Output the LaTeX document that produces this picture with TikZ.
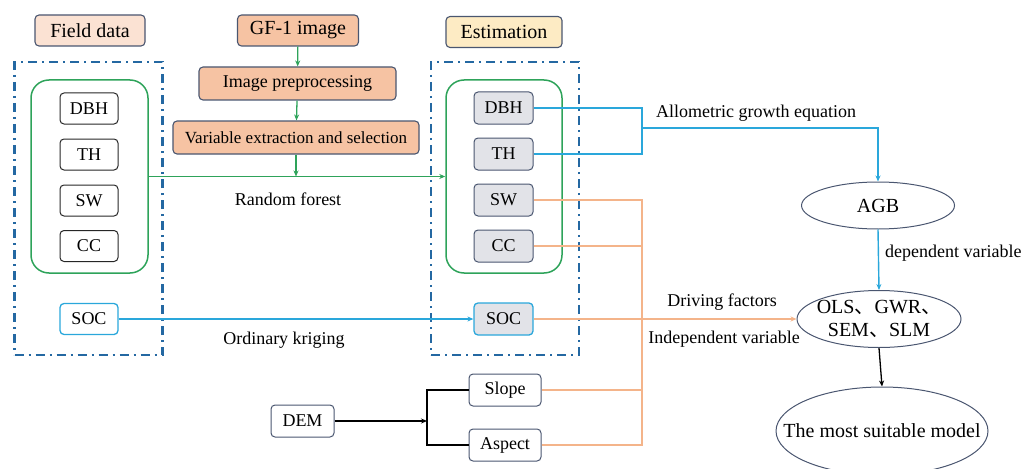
\documentclass[tikz,border=0pt]{standalone}
\usepackage{fontspec}
\setmainfont{Liberation Serif}
\newfontfamily\cjk{Noto Sans CJK SC}
\usetikzlibrary{shapes.geometric,arrows.meta}
\definecolor{dashblue}{HTML}{2468A2}
\definecolor{grn}{HTML}{2EA35A}
\definecolor{lblue}{HTML}{2AA7DB}
\definecolor{orng}{HTML}{F4B48A}
\definecolor{bord}{HTML}{4A5670}
\definecolor{greyf}{HTML}{E2E3E8}
\definecolor{peach}{HTML}{FBE2D3}
\definecolor{gff}{HTML}{F6C3A3}
\definecolor{estf}{HTML}{FDEBC4}
\tikzset{
  every node/.style={font=\fontsize{18}{20}\selectfont, inner sep=0pt},
  hdr/.style={draw=bord, line width=1.1pt, rounded corners=4pt, minimum height=31pt, font=\fontsize{20}{22}\selectfont},
  proc/.style={draw=bord, line width=1.1pt, rounded corners=4pt, fill=gff, minimum height=33pt},
  fbox/.style={draw=black!85, line width=1pt, rounded corners=4pt, minimum width=58pt, minimum height=31pt},
  ebox/.style={draw=bord, line width=1pt, rounded corners=4pt, fill=greyf, minimum width=59pt, minimum height=32pt},
  wbox/.style={draw=bord, line width=1pt, rounded corners=4pt, minimum height=32pt},
  dashframe/.style={draw=dashblue, line width=2.4pt, dash pattern=on 9pt off 5pt on 2pt off 5pt, minimum width=148pt, minimum height=293pt},
  greenframe/.style={draw=grn, line width=1.5pt, rounded corners=18pt, minimum width=117pt, minimum height=193pt},
  ell/.style={ellipse, draw=bord, line width=1pt},
  etext/.style={font=\fontsize{20}{23}\selectfont, align=center},
  garr/.style={draw=grn, line width=1.3pt, -{Stealth[length=6pt,width=5pt]}},
  barr/.style={draw=lblue, line width=1.4pt},
  oarr/.style={draw=orng, line width=1.3pt},
  karr/.style={draw=black, line width=1.3pt},
  tipb/.style={-{Stealth[length=6pt,width=5pt]}},
  lbl/.style={font=\fontsize{18}{20}\selectfont}
}
\begin{document}
\begin{tikzpicture}[x=1pt,y=-1pt]
\useasboundingbox (0,0) rectangle (1024,468);
% headers
\node[hdr, fill=peach, minimum width=110pt] (fd) at (90,30.5) {Field data};
\node[hdr, fill=gff, minimum width=121pt] (gf) at (298,30.5) {GF-1 image};
\node[hdr, fill=estf, minimum width=116pt] (est) at (504,32) {Estimation};
\node[proc, minimum width=197pt] (ip) at (297.5,83.5) {Image preprocessing};
\node[proc, minimum width=246pt, font=\fontsize{17}{19}\selectfont] (ve) at (296,137.5) {Variable extraction and selection};
% frames
\node[dashframe] (ldash) at (88.5,208.5) {};
\node[dashframe] (rdash) at (505,208.5) {};
\node[greenframe] (lgreen) at (89.5,176.5) {};
\node[greenframe, minimum width=116pt] (rgreen) at (504,176.5) {};
% field boxes
\node[fbox] (fdbh) at (89,108.5) {DBH};
\node[fbox] (fth) at (89,154.5) {TH};
\node[fbox] (fsw) at (89,200.5) {SW};
\node[fbox] (fcc) at (89,246) {CC};
\node[fbox, draw=lblue, line width=1.3pt] (fsoc) at (89,319) {SOC};
% estimation boxes
\node[ebox] (edbh) at (503.5,108) {DBH};
\node[ebox] (eth) at (503.5,154) {TH};
\node[ebox] (esw) at (503.5,200) {SW};
\node[ebox] (ecc) at (503.5,246) {CC};
\node[ebox, draw=lblue, line width=1.3pt] (esoc) at (503.5,319) {SOC};
% DEM
\node[wbox, minimum width=63pt] (dem) at (302.5,421) {DEM};
\node[wbox, minimum width=72pt] (slope) at (505,390) {Slope};
\node[wbox, minimum width=72pt] (aspect) at (505,445) {Aspect};
% ellipses
\node[ell, minimum width=153pt, minimum height=47pt] (agb) at (878,205.5) {};
\node[etext] (agbt) at (agb.center) {AGB};
\node[ell, minimum width=164pt, minimum height=57pt] (ols) at (879,319) {};
\node[etext] (olst) at (ols.center) {OLS{\cjk 、}GWR{\cjk 、}\\SEM{\cjk 、}SLM};
\node[ell, minimum width=212pt, minimum height=88pt] (model) at (882,431) {};
\node[etext] (modelt) at (model.center) {The most suitable model};
% green flow
\draw[garr] (gf) -- (ip);
\draw[garr] (ip) -- (ve);
\draw[garr] (ve.south) -- (ve.south |- lgreen.east);
\draw[garr] (lgreen.east) -- (rgreen.west);
\node[lbl] (rf) at (288,199) {Random forest};
% SOC kriging
\draw[barr, tipb] (fsoc.east) -- (esoc.west);
\node[lbl] (ok) at (284,340) {Ordinary kriging};
% allometric
\coordinate (bj) at (642,128);
\draw[barr] (edbh.east) -| (bj);
\draw[barr] (eth.east) -| (bj);
\draw[barr, tipb] (bj) -| (agb.north);
\node[lbl] (ag) at (756,113) {Allometric growth equation};
\draw[barr, tipb] (agb.south) -- (ols.north);
\node[lbl, anchor=west] (dv) at (885,253) {dependent variable};
% orange
\coordinate (oj) at (642,319);
\draw[oarr] (esw.east) -| (oj);
\draw[oarr] (ecc.east) -| (oj);
\draw[oarr] (slope.east) -| (oj);
\draw[oarr] (aspect.east) -| (oj);
\draw[oarr, tipb] (esoc.east) -- (ols.west);
\node[lbl] (df) at (722,302) {Driving factors};
\node[lbl] (iv) at (724,339) {Independent variable};
% DEM branch
\coordinate (dj) at (427,421);
\draw[karr, tipb] (dem.east) -- (dj);
\draw[karr] (dj) |- (slope.west);
\draw[karr] (dj) |- (aspect.west);
% final
\draw[karr, tipb] (ols.south) -- (model.north);
\end{tikzpicture}
\end{document}
